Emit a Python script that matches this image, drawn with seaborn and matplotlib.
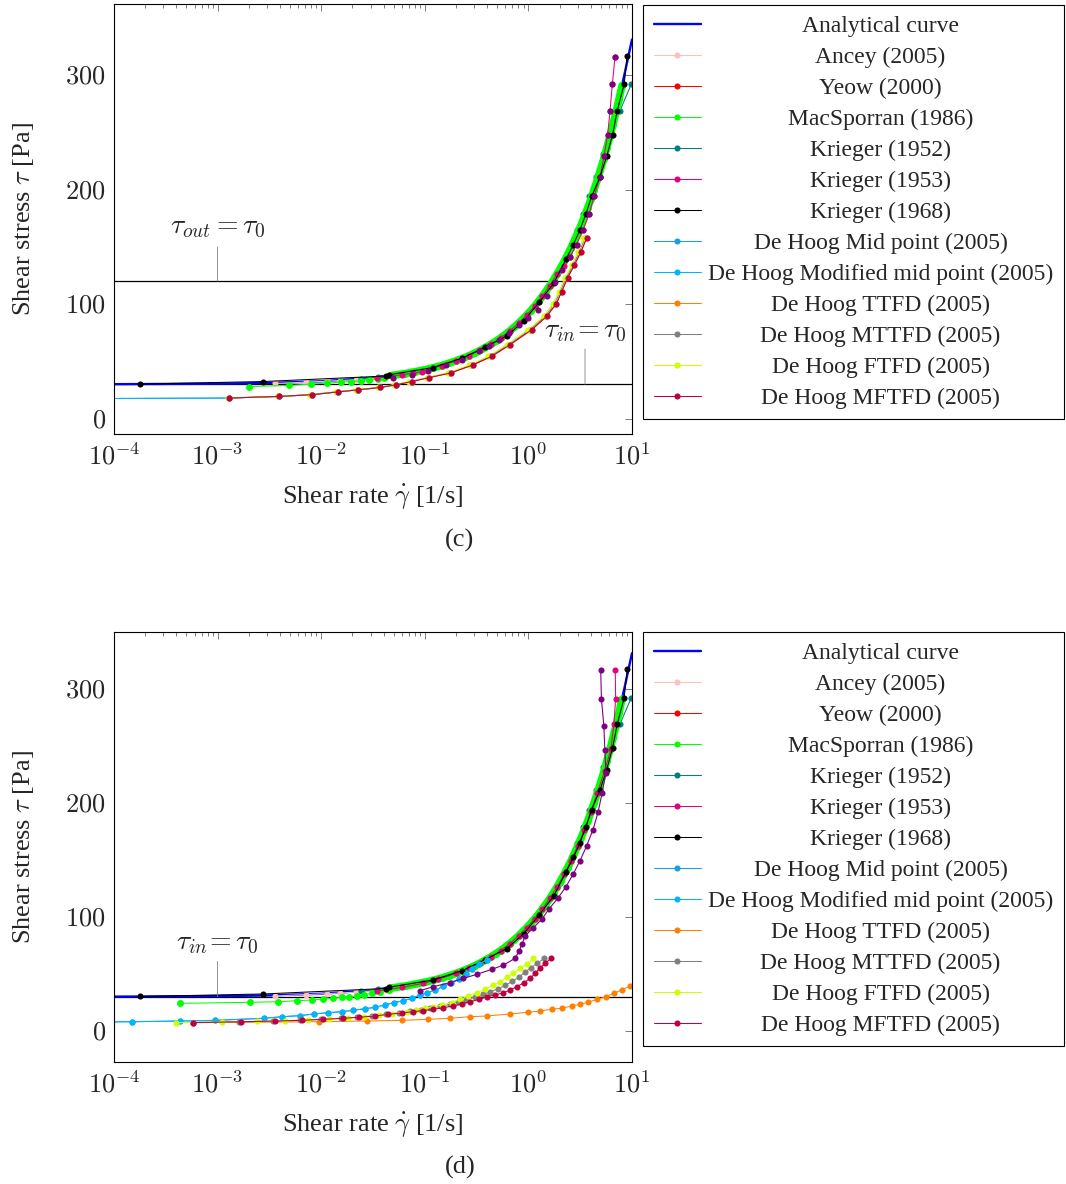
"""
Shear stress vs shear rate, panels (c) and (d)
"""
import matplotlib
matplotlib.use("Agg")
import matplotlib.pyplot as plt
import matplotlib.ticker as mticker
import numpy as np
import seaborn as sns

# =============================================================================
# DATA: shear rate [1/s], shear stress [Pa]
# =============================================================================
TAU0 = 30.0
TAU_OUT = 120.0
PIN_X_OUT = 1e-3
PIN_X_IN_C = 3.52
PIN_X_IN_D = 1e-3

ANALYTIC_X = [1e-4, 1e-3, 3e-3, 1e-2, 3e-2, 0.1, 0.3, 0.5, 1, 1.5, 2, 3, 4, 5, 7, 8.5, 10]
ANALYTIC_TAU = [30.1, 30.5, 31.1, 32.6, 35.5, 42.6, 57.0, 68.4, 92.0, 112.0, 130.0,
                162.0, 191.4, 218.0, 267.0, 301.5, 331.0]

# stress levels shared by most methods and the rates they map to
MAIN_X = [1.2e-3, 0.0143, 0.0356, 0.064, 0.100, 0.146, 0.201, 0.267, 0.343, 0.433,
          0.540, 0.661, 0.803, 0.965, 1.153, 1.366, 1.612, 1.893, 2.214, 2.579,
          2.996, 3.470, 4.007, 4.62, 5.32, 6.10, 7.00, 8.01, 9.17]
MAIN_TAU = [30.6, 33.3, 36.2, 39.3, 42.7, 46.4, 50.5, 54.9, 59.6, 64.8,
            70.5, 76.6, 83.3, 90.5, 98.4, 106.9, 116.2, 126.3, 137.3, 149.2,
            162.2, 176.3, 191.6, 208.3, 226.4, 246.0, 267.5, 290.7, 316.0]
MID_X = [0.0477, 0.080, 0.121, 0.171, 0.232, 0.303, 0.385, 0.484, 0.597, 0.729,
         0.880, 1.055, 1.255, 1.484, 1.747, 2.047, 2.390, 2.780, 3.224, 3.729,
         4.303, 4.958, 5.697, 6.535, 7.488]
MID_TAU = [37.7, 41.0, 44.5, 48.4, 52.7, 57.2, 62.2, 67.6, 73.5, 79.9,
           86.9, 94.4, 102.6, 111.5, 121.2, 131.8, 143.2, 155.7, 169.2, 183.9,
           199.9, 217.3, 236.2, 256.7, 279.0]

ANCEY_LOW_X = [3.6e-3, 7.2e-3, 0.0115, 0.0152, 0.0215, 0.030, 0.042]
ANCEY_LOW_TAU = [30.7, 31.9, 32.7, 33.3, 34.0, 34.9, 36.3]
ANCEY_X = ANCEY_LOW_X + MAIN_X[3:28]
ANCEY_TAU = ANCEY_LOW_TAU + MAIN_TAU[3:28]

YEOW_X = MAIN_X[3:28]
YEOW_TAU = MAIN_TAU[3:28]

C_GREEN_LOW_X = [2.0e-3, 4.9e-3, 8.0e-3, 0.0115, 0.0154, 0.0195, 0.024, 0.029, 0.035, 0.040]
C_GREEN_LOW_TAU = [28.0, 29.0, 30.2, 31.0, 31.9, 32.4, 33.2, 33.9, 34.8, 35.4]
D_GREEN_LOW_X = [4.3e-4, 2.06e-3, 3.86e-3, 5.8e-3, 8.1e-3, 0.0105, 0.0129, 0.0158,
                 0.0187, 0.022, 0.0259, 0.0307, 0.037, 0.0454]
D_GREEN_LOW_TAU = [24.2, 25.1, 25.6, 26.5, 27.1, 28.0, 28.6, 29.5,
                   30.0, 30.6, 31.5, 33.0, 34.4, 35.9]
green_up = sorted(zip(MAIN_X[3:28] + MID_X, MAIN_TAU[3:28] + MID_TAU))
GREEN_UP_X = [p[0] for p in green_up]
GREEN_UP_TAU = [p[1] for p in green_up]

K1952_X = [0.024, 0.0356, 0.064, 0.100, 0.146, 0.201, 0.267, 0.343, 0.433, 0.540,
           0.661, 0.803, 0.965, 1.153, 1.366, 1.60, 2.0, 2.45, 2.92, 3.39,
           3.87, 4.47, 5.2, 6.2, 7.66, 9.85]
K1952_TAU = [34.8, 36.4, 39.5, 43.0, 46.8, 51.0, 55.5, 60.2, 65.5, 71.3,
             77.5, 84.3, 91.6, 99.6, 108.2, 117.6, 129.5, 145.0, 165.0, 179.0,
             194.0, 211.0, 231.0, 250.0, 269.0, 292.0]

C_K1953_X = [0.0344, 0.0598, 0.0774, 0.093, 0.146, 0.201, 0.267, 0.343, 0.433, 0.540,
             0.661, 0.803, 0.965, 1.153, 1.366, 1.612, 1.893, 2.214, 2.52, 2.92,
             3.39, 3.87, 4.30, 4.91, 5.37, 5.82, 6.14, 6.46, 6.86]
C_K1953_TAU = [35.4, 38.3, 39.7, 41.1, 46.4, 50.5, 54.9, 59.6, 64.8, 70.5,
               76.6, 83.3, 90.5, 98.4, 106.9, 116.2, 126.3, 133.0, 141.0, 152.0,
               165.0, 179.0, 194.0, 211.0, 229.0, 248.0, 269.0, 292.0, 316.0]
D_K1953_X = [0.0344, 0.0598, 0.0965, 0.134, 0.201, 0.267, 0.343, 0.433, 0.540, 0.661,
             0.803, 0.965, 1.153, 1.366, 1.612, 1.893, 2.214, 2.579, 2.996, 3.470,
             4.007, 4.62, 5.45, 6.26, 6.68, 6.95, 6.89]
D_K1953_TAU = [35.0, 38.2, 41.7, 45.2, 50.5, 54.9, 59.6, 64.8, 70.5, 76.6,
               83.3, 90.5, 98.4, 106.9, 116.2, 126.3, 137.3, 149.2, 162.2, 176.3,
               191.6, 208.3, 228.0, 247.0, 268.6, 291.0, 316.0]

K1968_X = [1.8e-4, 2.76e-3, 0.042, 0.045, 0.119, 0.229, 0.38, 0.62, 0.90, 1.27,
           1.76, 2.30, 2.72, 3.15, 3.6, 4.08, 4.9, 5.7, 6.5, 7.2, 8.4, 9.0]
K1968_TAU = [30.2, 32.4, 37.2, 38.3, 44.6, 52.8, 62.4, 72.2, 85.2, 101.5,
             118.5, 139.0, 152.0, 165.0, 179.0, 194.0, 211.0, 229.0, 248.0, 269.0,
             292.0, 317.0]

C_VIOLET_X = [0.049, 0.0748, 0.108, 0.16, 0.23, 0.33, 0.42, 0.52, 0.65, 0.81,
              1.0, 1.23, 1.5, 1.8, 2.1, 2.52, 2.92, 3.39, 3.87, 4.30,
              4.91, 5.37, 5.82, 6.14, 6.46, 6.86]
C_VIOLET_TAU = [35.6, 38.3, 41.7, 46.5, 51.5, 59.4, 63.5, 68.7, 75.0, 81.7,
                88.0, 94.8, 107.0, 119.4, 130.0, 141.0, 152.0, 165.0, 179.0, 194.0,
                211.0, 229.0, 248.0, 269.0, 292.0, 316.0]
D_VIOLET_X = [0.090, 0.121, 0.175, 0.236, 0.317, 0.443, 0.573, 0.743, 0.82, 0.87,
              0.93, 1.12, 1.36, 1.58, 1.92, 2.30, 2.70, 3.15, 3.65, 4.20,
              4.70, 5.14, 5.60, 5.47, 5.35, 5.07, 4.99]
D_VIOLET_TAU = [35.3, 38.8, 42.3, 46.1, 49.6, 54.0, 57.7, 63.6, 70.5, 76.6,
                83.3, 90.5, 98.4, 106.9, 116.2, 126.3, 137.3, 149.2, 162.2, 176.3,
                191.6, 208.3, 226.4, 246.0, 267.5, 290.7, 316.0]

# De Hoog family, panel (c)
C_MID_X = [5e-5, 1.3e-3, 3.9e-3, 8.1e-3, 0.0146, 0.0228, 0.037, 0.053]
C_MID_TAU = [17.5, 18.0, 19.4, 20.9, 23.4, 25.2, 27.2, 29.6]
C_LOW_TAU = [18.0, 19.4, 20.9, 23.4, 25.2, 27.2, 29.6, 32.4, 35.9, 39.9,
             46.8, 54.4, 64.6, 77.7, 89.3, 100.0, 111.0, 123.0, 134.0, 145.5, 157.6]
C_MFTFD_X = [1.3e-3, 3.9e-3, 8.1e-3, 0.0146, 0.0228, 0.037, 0.053, 0.075, 0.111, 0.178,
             0.29, 0.443, 0.664, 1.08, 1.50, 1.85, 2.10, 2.39, 2.78, 3.21, 3.65]
C_MTTFD_X = [1.28e-3, 3.85e-3, 7.9e-3, 0.0142, 0.022, 0.036, 0.0515, 0.073, 0.107, 0.172,
             0.28, 0.425, 0.64, 1.04, 1.45, 1.78, 2.03, 2.32, 2.70, 3.10, 3.52]
C_FTFD_X = [1.25e-3, 3.8e-3, 7.8e-3, 0.0138, 0.0215, 0.035, 0.050, 0.071, 0.104, 0.166,
            0.27, 0.41, 0.62, 1.0, 1.40, 1.72, 1.97, 2.25, 2.62, 3.0, 3.39]

# De Hoog family, panel (d)
D_MID_X = [6e-5, 1.48e-4, 4.3e-4, 9.4e-4, 2.8e-3, 4.2e-3, 6.2e-3, 8.5e-3, 0.0117, 0.0158,
           0.0204, 0.0265, 0.033, 0.041, 0.050, 0.062, 0.075, 0.090, 0.106, 0.126,
           0.151, 0.18, 0.212, 0.25, 0.284, 0.336, 0.40]
D_MID_TAU = [7.8, 8.1, 8.7, 9.3, 11.1, 12.5, 13.4, 14.9, 16.0, 16.9,
             18.1, 19.5, 20.7, 22.7, 24.8, 26.5, 28.6, 31.5, 33.5, 36.0,
             39.0, 42.0, 45.5, 50.0, 54.0, 58.6, 62.5]
D_TTFD_X = [5.8e-4, 9.6e-3, 0.0275, 0.060, 0.108, 0.175, 0.273, 0.395, 0.664, 1.0,
            1.29, 1.68, 2.1, 2.62, 3.15, 3.79, 4.56, 5.61, 6.7, 7.94, 9.57]
D_TTFD_TAU = [7.3, 8.1, 8.7, 9.3, 10.2, 11.1, 12.5, 13.1, 14.9, 16.4,
              17.5, 19.0, 19.9, 21.9, 23.4, 25.1, 27.7, 30.0, 33.0, 35.9, 39.4]
D_MTTFD_X = [5.8e-4, 1.6e-3, 3.4e-3, 6.2e-3, 0.010, 0.0155, 0.022, 0.031, 0.042, 0.056,
             0.072, 0.091, 0.113, 0.141, 0.174, 0.21, 0.252, 0.305, 0.365, 0.43,
             0.51, 0.60, 0.70, 0.81, 0.93, 1.06, 1.22, 1.42]
D_MTTFD_TAU = [7.4, 8.0, 8.6, 9.3, 10.2, 11.1, 12.0, 13.1, 14.6, 16.0,
               17.4, 18.7, 20.0, 21.5, 23.2, 25.2, 27.4, 29.8, 32.0, 34.3,
               37.0, 40.0, 43.5, 47.3, 51.5, 55.5, 59.5, 63.6]
D_FTFD_X = [4.0e-4, 1.1e-3, 2.4e-3, 4.5e-3, 7.5e-3, 0.012, 0.018, 0.026, 0.036, 0.048,
            0.067, 0.082, 0.100, 0.121, 0.146, 0.182, 0.219, 0.263, 0.317, 0.381,
            0.458, 0.532, 0.617, 0.715, 0.83, 0.964, 1.12]
D_FTFD_TAU = [7.3, 7.9, 8.4, 9.0, 9.6, 10.5, 11.4, 12.5, 13.8, 15.2,
              16.9, 18.4, 19.9, 21.3, 22.7, 24.8, 27.7, 30.6, 33.5, 36.5,
              40.2, 43.1, 47.0, 50.5, 54.8, 58.6, 63.6]
D_MFTFD_X = [5.8e-4, 1.7e-3, 3.6e-3, 6.5e-3, 0.0105, 0.0163, 0.0233, 0.033, 0.0444, 0.060,
             0.077, 0.097, 0.121, 0.151, 0.188, 0.227, 0.273, 0.336, 0.401, 0.476,
             0.573, 0.664, 0.77, 0.91, 1.04, 1.16, 1.29, 1.45, 1.65]
D_MFTFD_TAU = [7.3, 8.1, 8.7, 9.3, 10.2, 11.1, 12.0, 13.1, 14.6, 15.8,
               16.9, 17.9, 19.0, 20.4, 21.9, 23.6, 25.6, 27.7, 30.0, 31.5,
               33.5, 35.9, 38.8, 42.3, 46.1, 50.5, 54.9, 59.2, 63.6]

LABELS = ["Analytical curve", "Ancey (2005)", "Yeow (2000)", "MacSporran (1986)",
          "Krieger (1952)", "Krieger (1953)", "Krieger (1968)",
          "De Hoog Mid point (2005)", "De Hoog Modified mid point (2005)",
          "De Hoog TTFD (2005)", "De Hoog MTTFD (2005)", "De Hoog FTFD (2005)",
          "De Hoog MFTFD (2005)"]
COLORS = ["#0000ff", "#ffbfbf", "#ff0000", "#00ff00", "#008080", "#e6007e", "#000000",
          "#1a9ee6", "#00b4ff", "#ff8000", "#808080", "#ccff00", "#bf0040"]
VIOLET = "#800080"

SERIES_C = [
    (ANALYTIC_X, ANALYTIC_TAU),
    (ANCEY_X, ANCEY_TAU),
    (YEOW_X, YEOW_TAU),
    (C_GREEN_LOW_X + GREEN_UP_X, C_GREEN_LOW_TAU + GREEN_UP_TAU),
    (K1952_X, K1952_TAU),
    (C_K1953_X, C_K1953_TAU),
    (K1968_X, K1968_TAU),
    (C_MID_X, C_MID_TAU),
    (C_MID_X, C_MID_TAU),
    (C_MFTFD_X, C_LOW_TAU),
    (C_MTTFD_X, C_LOW_TAU),
    (C_FTFD_X, C_LOW_TAU),
    (C_MFTFD_X, C_LOW_TAU),
]
SERIES_D = [
    (ANALYTIC_X, ANALYTIC_TAU),
    (ANCEY_X, ANCEY_TAU),
    (YEOW_X, YEOW_TAU),
    (D_GREEN_LOW_X + GREEN_UP_X, D_GREEN_LOW_TAU + GREEN_UP_TAU),
    (K1952_X, K1952_TAU),
    (D_K1953_X, D_K1953_TAU),
    (K1968_X, K1968_TAU),
    (D_MID_X, D_MID_TAU),
    (D_MID_X, D_MID_TAU),
    (D_TTFD_X, D_TTFD_TAU),
    (D_MTTFD_X, D_MTTFD_TAU),
    (D_FTFD_X, D_FTFD_TAU),
    (D_MFTFD_X, D_MFTFD_TAU),
]

# =============================================================================
# STYLE
# =============================================================================
sns.set_style("white")
plt.rcParams["font.family"] = ["Liberation Serif", "DejaVu Serif"]
plt.rcParams["mathtext.fontset"] = "cm"

MS = 4.4
LW = 0.75

W, H = 1066, 1184
fig = plt.figure(figsize=(W / 100, H / 100), dpi=100)
ax_c = fig.add_axes([114 / W, 1 - 434 / H, 518 / W, 430 / H])
ax_d = fig.add_axes([114 / W, 1 - 1062 / H, 518 / W, 430 / H])


def series_zorder(label):
    if "1968" in label or "De Hoog" in label:
        return 2.5
    if "1953" in label:
        return 2.4
    return 2.0


def draw_panel(ax, series, violet, violet_lw, ylim):
    ax.set_xscale("log")
    for (x, y), label, color in zip(series, LABELS, COLORS):
        if label == "Analytical curve":
            sns.lineplot(x=x, y=y, ax=ax, color=color, linewidth=1.7, sort=False,
                         estimator=None, label=label, zorder=2)
        elif label.startswith("MacSporran"):
            # the densely sampled part shows as a thick green band
            sns.lineplot(x=GREEN_UP_X, y=GREEN_UP_TAU, ax=ax, color=color,
                         linewidth=5.5, solid_capstyle="round", sort=False,
                         estimator=None, zorder=2.3)
            sns.lineplot(x=x, y=y, ax=ax, color=color, marker="o", markersize=5.0,
                         markeredgewidth=0, linewidth=LW, sort=False,
                         estimator=None, label=label, zorder=2.35)
        else:
            sns.lineplot(x=x, y=y, ax=ax, color=color, marker="o", markersize=MS,
                         markeredgewidth=0, linewidth=LW, sort=False,
                         estimator=None, label=label, zorder=series_zorder(label))
    sns.lineplot(x=violet[0], y=violet[1], ax=ax, color=VIOLET, marker="o",
                 markersize=MS, markeredgewidth=0, linewidth=violet_lw, sort=False,
                 estimator=None, zorder=2.6)

    ax.axhline(TAU0, color="black", linewidth=0.9, zorder=1.5)
    ax.set_xlim(1e-4, 10)
    ax.set_ylim(*ylim)
    ax.set_yticks([0, 100, 200, 300])
    ax.xaxis.set_major_locator(mticker.LogLocator(base=10, numticks=10))
    ax.xaxis.set_minor_locator(mticker.LogLocator(base=10, subs=range(2, 10), numticks=20))
    ax.xaxis.set_major_formatter(
        mticker.FuncFormatter(lambda v, p: f"$10^{{{int(round(np.log10(v)))}}}$"))
    ax.xaxis.set_minor_formatter(mticker.NullFormatter())
    ax.yaxis.set_major_formatter(mticker.FuncFormatter(lambda v, p: f"${v:.0f}$"))
    ax.tick_params(which="both", direction="in", top=True, right=True,
                   color="0.4", width=0.6, labelsize=19)
    ax.tick_params(which="major", length=5, pad=6)
    ax.tick_params(which="minor", length=3)
    for sp in ax.spines.values():
        sp.set_color("black")
        sp.set_linewidth(0.8)
    ax.set_xlabel(r"Shear rate $\dot{\gamma}$ [1/s]", fontsize=19, labelpad=10)
    ax.set_ylabel(r"Shear stress $\tau$ [Pa]", fontsize=19, labelpad=21)


def pin(ax, x, y0, y1, ytext, text):
    ax.annotate("", xy=(x, y0), xytext=(x, y1),
                arrowprops=dict(arrowstyle="-", color="0.5", lw=0.6, shrinkA=0, shrinkB=0))
    ax.text(x, ytext, text, ha="center", va="center", fontsize=20)


draw_panel(ax_c, SERIES_C, (C_VIOLET_X, C_VIOLET_TAU), 0, (-13.4, 362))
ax_c.axhline(TAU_OUT, color="black", linewidth=0.9, zorder=1.5)
pin(ax_c, PIN_X_OUT, TAU_OUT, 150, 166.5, r"$\tau_{out} = \tau_0$")
pin(ax_c, PIN_X_IN_C, TAU0, 60.8, 76.5, r"$\tau_{in}\!= \tau_0$")

draw_panel(ax_d, SERIES_D, (D_VIOLET_X, D_VIOLET_TAU), 0.8, (-27.2, 349.6))
pin(ax_d, PIN_X_IN_D, TAU0, 61, 76.8, r"$\tau_{in}\!= \tau_0$")

fig.text(460 / W, 1 - 540 / H, "(c)", ha="center", va="center", fontsize=19)
fig.text(460 / W, 1 - 1167 / H, "(d)", ha="center", va="center", fontsize=19)

# legends outside the axes, text centred like in the original
legends = []
for ax, top in [(ax_c, 5), (ax_d, 632)]:
    handles, labels = ax.get_legend_handles_labels()
    leg = ax.legend(handles, labels, loc="upper left",
                    bbox_to_anchor=(643 / W, 1 - top / H), bbox_transform=fig.transFigure,
                    borderaxespad=0, fontsize=17, frameon=True, fancybox=False,
                    edgecolor="black", framealpha=1, handlelength=2.0,
                    handletextpad=0.3, borderpad=0.45, labelspacing=0.40)
    leg.get_frame().set_linewidth(0.8)
    leg.legend_handles[3].set_markersize(MS)
    legends.append(leg)

fig.canvas.draw()
for leg in legends:
    texts = leg.get_texts()
    widths = [t.get_window_extent().width for t in texts]
    wmax = max(widths)
    for t, w in zip(texts, widths):
        t.set_position(((wmax - w) / 2, 0))

fig.savefig("out.png", dpi=100, facecolor="white")
plt.close()
